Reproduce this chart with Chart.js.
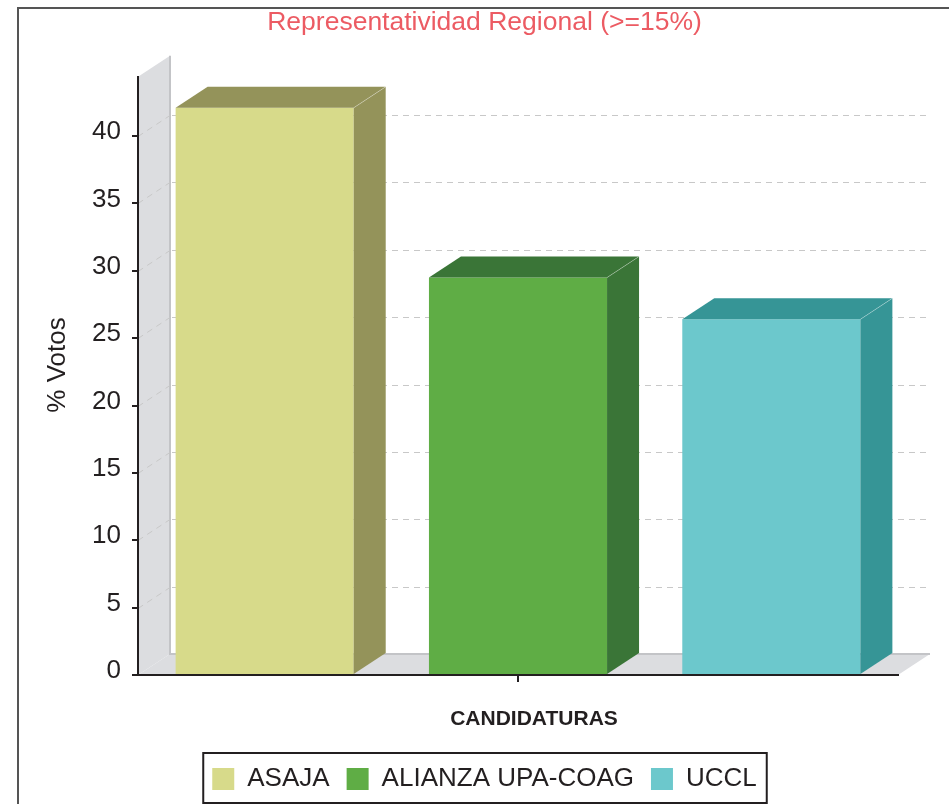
<!DOCTYPE html>
<html>
<head>
<meta charset="utf-8">
<script src="https://cdn.jsdelivr.net/npm/chart.js@4.4.1/dist/chart.umd.min.js"></script>
<style>
  html, body { margin: 0; padding: 0; background: #fff; }
</style>
</head>
<body>
<canvas id="chart" width="949" height="804"></canvas>
<script>
const categories = [''];
const seriesNames = ['ASAJA', 'ALIANZA UPA-COAG', 'UCCL'];
const seriesValues = [[42.1], [29.5], [26.4]];
const yTicks = [0, 5, 10, 15, 20, 25, 30, 35, 40];
const yMax = 44.4;

const frontColors = ['#d7da8a', '#5fad45', '#6cc8cc'];
const sideColors = ['#94935a', '#3a7537', '#369596'];

const DX = 32, DY = 21; // depth of the fake 3d box
const FONT = "'Liberation Sans', Arial, Helvetica, sans-serif";
const INK = '#231f20';

Chart.defaults.font.family = FONT;
Chart.defaults.color = INK;

// walls, floor, back grid and the bar sides
const box3d = {
  id: 'box3d',
  beforeDraw(chart) {
    const {ctx, chartArea: a, scales: {y}} = chart;
    ctx.save();
    ctx.strokeStyle = '#555';
    ctx.lineWidth = 2;
    ctx.strokeRect(18, 8, chart.width + 20, chart.height + 20);

    ctx.fillStyle = '#dcdde0';
    ctx.beginPath();
    ctx.moveTo(a.left, a.top);
    ctx.lineTo(a.left + DX, a.top - DY);
    ctx.lineTo(a.left + DX, a.bottom - DY);
    ctx.lineTo(a.left, a.bottom);
    ctx.closePath();
    ctx.fill();
    ctx.beginPath();
    ctx.moveTo(a.left, a.bottom);
    ctx.lineTo(a.left + DX, a.bottom - DY);
    ctx.lineTo(a.right + DX, a.bottom - DY);
    ctx.lineTo(a.right, a.bottom);
    ctx.closePath();
    ctx.fill();

    ctx.strokeStyle = '#c3c4c7';
    ctx.lineWidth = 2;
    ctx.beginPath();
    ctx.moveTo(a.left + DX, a.top - DY);
    ctx.lineTo(a.left + DX, a.bottom - DY);
    ctx.lineTo(a.right + DX, a.bottom - DY);
    ctx.stroke();

    ctx.strokeStyle = '#c8c8c8';
    ctx.lineWidth = 1;
    ctx.setLineDash([6, 5]);
    yTicks.forEach(v => {
      if (v === 0) return;
      const py = Math.round(y.getPixelForValue(v)) + 0.5;
      ctx.beginPath();
      ctx.moveTo(a.left, py);
      ctx.lineTo(a.left + DX, py - DY);
      ctx.moveTo(a.left + DX + 2, py - DY);
      ctx.lineTo(a.right + DX, py - DY);
      ctx.stroke();
    });
    ctx.restore();
  },
  afterDatasetsDraw(chart) {
    const {ctx} = chart;
    ctx.save();
    chart.data.datasets.forEach((ds, i) => {
      const meta = chart.getDatasetMeta(i);
      if (meta.hidden) return;
      meta.data.forEach(bar => {
        const {x, y, base, width} = bar.getProps(['x', 'y', 'base', 'width'], true);
        const l = x - width / 2, r = x + width / 2;
        ctx.fillStyle = sideColors[i];
        ctx.beginPath();
        ctx.moveTo(r, y);
        ctx.lineTo(r + DX, y - DY);
        ctx.lineTo(r + DX, base - DY);
        ctx.lineTo(r, base);
        ctx.closePath();
        ctx.fill();
        ctx.beginPath();
        ctx.moveTo(l, y);
        ctx.lineTo(l + DX, y - DY);
        ctx.lineTo(r + DX, y - DY);
        ctx.lineTo(r, y);
        ctx.closePath();
        ctx.fill();
        ctx.strokeStyle = 'rgba(255,255,255,0.3)';
        ctx.lineWidth = 1;
        ctx.beginPath();
        ctx.moveTo(r, y);
        ctx.lineTo(r + DX, y - DY);
        ctx.stroke();
      });
    });
    ctx.restore();
  },
  afterDraw(chart) {
    const {ctx, chartArea: a} = chart;
    ctx.save();
    ctx.fillStyle = INK;
    ctx.textAlign = 'center';
    ctx.textBaseline = 'middle';
    ctx.font = `bold 21px ${FONT}`;
    ctx.fillText('CANDIDATURAS', (a.left + a.right + DX) / 2, a.bottom + 44);
    ctx.font = `26px ${FONT}`;
    ctx.translate(57.5, 365);
    ctx.rotate(-Math.PI / 2);
    ctx.fillText('% Votos', 0, 0);
    ctx.restore();

    // frame round the legend
    const boxes = chart.legend.legendHitBoxes;
    if (boxes && boxes.length) {
      const first = boxes[0], last = boxes[boxes.length - 1];
      ctx.save();
      ctx.strokeStyle = INK;
      ctx.lineWidth = 2;
      ctx.strokeRect(first.left - 9, first.top - 13, last.left + last.width + 19 - first.left, first.height + 24);
      ctx.restore();
    }
  }
};

new Chart(document.getElementById('chart'), {
  type: 'bar',
  plugins: [box3d],
  data: {
    labels: categories,
    datasets: seriesNames.map((name, i) => ({
      label: name,
      data: seriesValues[i],
      backgroundColor: frontColors[i],
      borderWidth: 0,
      categoryPercentage: 1.0,
      barPercentage: 0.703,
    })),
  },
  options: {
    responsive: false,
    animation: false,
    layout: { padding: { left: 20, right: 0, top: 0, bottom: 2 } },
    plugins: {
      tooltip: { enabled: false },
      title: {
        display: true,
        text: 'Representatividad Regional (>=15%)',
        color: '#ec5b63',
        font: { size: 26.5, weight: 'normal' },
        padding: { top: 7, bottom: 38 },
      },
      legend: {
        position: 'bottom',
        labels: {
          boxWidth: 22,
          boxHeight: 22,
          padding: 17,
          color: INK,
          font: { size: 26 },
        },
      },
    },
    scales: {
      x: {
        type: 'category',
        grid: { display: true, drawOnChartArea: false, offset: false, tickLength: 7, color: INK, lineWidth: 2 },
        border: { display: true, color: INK, width: 2, z: 1 },
        ticks: { display: false },
        afterFit: s => { s.height = 74; },
      },
      y: {
        min: 0,
        max: yMax,
        grid: { display: true, drawOnChartArea: false, tickLength: 6, color: INK, lineWidth: 2 },
        border: { display: true, color: INK, width: 2, z: 1 },
        ticks: { padding: 11, labelOffset: -4, color: INK, font: { size: 26 } },
        afterBuildTicks: s => { s.ticks = yTicks.map(v => ({ value: v })); },
        afterFit: s => { s.width = 118; },
      },
      gap: {
        type: 'linear',
        position: 'right',
        grid: { display: false },
        border: { display: false },
        ticks: { display: false },
        afterFit: s => { s.width = 51; },
      },
    },
  },
});
</script>
</body>
</html>
